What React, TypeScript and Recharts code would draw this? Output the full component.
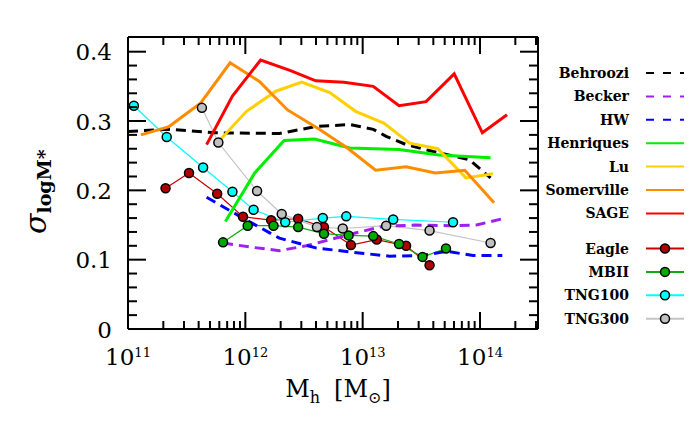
import { ComposedChart, Line, XAxis, YAxis, Legend } from "recharts"

// log10(M_h / M_sun) and sigma_logM*
const behrooziLogM = [11.0, 11.35, 11.75, 12.29, 12.6, 12.89, 13.09, 13.2, 13.37, 13.6, 13.91, 14.09]
const behrooziSigma = [0.285, 0.288, 0.283, 0.282, 0.292, 0.295, 0.288, 0.278, 0.266, 0.256, 0.244, 0.218]

const beckerLogM = [11.81, 12.05, 12.29, 12.52, 12.88, 13.17, 13.45, 13.74, 13.97, 14.19]
const beckerSigma = [0.124, 0.118, 0.113, 0.12, 0.136, 0.148, 0.15, 0.149, 0.15, 0.159]

const hwLogM = [11.67, 11.98, 12.29, 12.6, 12.9, 13.23, 13.5, 13.72, 13.94, 14.19]
const hwSigma = [0.19, 0.16, 0.131, 0.117, 0.111, 0.105, 0.106, 0.112, 0.106, 0.106]

const henriquesLogM = [11.83, 12.08, 12.33, 12.59, 12.89, 13.31, 13.65, 14.09]
const henriquesSigma = [0.155, 0.225, 0.272, 0.274, 0.261, 0.259, 0.251, 0.247]

const luLogM = [11.78, 12.01, 12.26, 12.48, 12.72, 12.94, 13.18, 13.4, 13.64, 13.88, 14.11]
const luSigma = [0.272, 0.314, 0.343, 0.356, 0.341, 0.314, 0.297, 0.268, 0.26, 0.218, 0.224]

const somervilleLogM = [11.11, 11.35, 11.62, 11.87, 12.12, 12.36, 12.63, 12.87, 13.11, 13.37, 13.62, 13.87, 14.12]
const somervilleSigma = [0.28, 0.292, 0.326, 0.384, 0.357, 0.316, 0.288, 0.261, 0.229, 0.234, 0.225, 0.229, 0.182]

const sageLogM = [11.67, 11.89, 12.13, 12.38, 12.6, 12.84, 13.09, 13.31, 13.54, 13.78, 14.02, 14.23]
const sageSigma = [0.266, 0.336, 0.388, 0.373, 0.358, 0.356, 0.35, 0.322, 0.328, 0.368, 0.283, 0.309]

const eagleLogM = [11.32, 11.52, 11.76, 11.98, 12.22, 12.45, 12.67, 12.9, 13.12, 13.37, 13.57]
const eagleSigma = [0.203, 0.225, 0.195, 0.162, 0.157, 0.159, 0.147, 0.121, 0.129, 0.12, 0.092]

const mbiiLogM = [11.81, 12.02, 12.24, 12.45, 12.67, 12.88, 13.09, 13.31, 13.51, 13.71]
const mbiiSigma = [0.125, 0.149, 0.149, 0.147, 0.1375, 0.135, 0.134, 0.1226, 0.104, 0.116]

const tng100LogM = [11.05, 11.33, 11.64, 11.89, 12.07, 12.34, 12.66, 12.86, 13.26, 13.77]
const tng100Sigma = [0.322, 0.277, 0.233, 0.198, 0.172, 0.154, 0.16, 0.1625, 0.158, 0.154]

const tng300LogM = [11.63, 11.77, 12.1, 12.31, 12.61, 12.83, 13.2, 13.57, 14.09]
const tng300Sigma = [0.319, 0.269, 0.199, 0.166, 0.147, 0.145, 0.149, 0.142, 0.124]

const decades = [11, 12, 13, 14]
const X_MIN = 1e11
const X_MAX = 3.12e14
const Y_MAX = 0.4212

const FONT = "'DejaVu Serif', serif"

const toPoints = (logM: number[], sigma: number[]) =>
  logM.map((l, i) => ({ m: Math.pow(10, l), s: sigma[i] }))

const models = [
  { name: "Behroozi", logM: behrooziLogM, sigma: behrooziSigma, color: "#000000", dash: "10 6" },
  { name: "Becker", logM: beckerLogM, sigma: beckerSigma, color: "#a020f0", dash: "10 6" },
  { name: "HW", logM: hwLogM, sigma: hwSigma, color: "#0000ff", dash: "10 6" },
  { name: "Henriques", logM: henriquesLogM, sigma: henriquesSigma, color: "#00ee00" },
  { name: "Lu", logM: luLogM, sigma: luSigma, color: "#ffd000" },
  { name: "Somerville", logM: somervilleLogM, sigma: somervilleSigma, color: "#ff8c00" },
  { name: "SAGE", logM: sageLogM, sigma: sageSigma, color: "#ff0000" },
]

const sims = [
  { name: "Eagle", logM: eagleLogM, sigma: eagleSigma, line: "#cc0000", fill: "#b00000" },
  { name: "MBII", logM: mbiiLogM, sigma: mbiiSigma, line: "#11aa11", fill: "#00aa00" },
  { name: "TNG100", logM: tng100LogM, sigma: tng100Sigma, line: "#00ffff", fill: "#00ffff" },
  { name: "TNG300", logM: tng300LogM, sigma: tng300Sigma, line: "#c4c4c4", fill: "#c0c0c0" },
]

const xTicks: number[] = []
decades.forEach((d) => {
  for (let k = 1; k <= 9; k++) {
    const v = k * Math.pow(10, d)
    if (v <= X_MAX) xTicks.push(v)
  }
})
const yTicks = Array.from({ length: 21 }, (_, i) => Math.round(i * 2) / 100)

const isMajorX = (v: number) => {
  const l = Math.log10(v)
  return Math.abs(l - Math.round(l)) < 1e-6
}
const isMajorY = (v: number) => Math.abs(v * 10 - Math.round(v * 10)) < 1e-6

function BottomTick(props: any) {
  const { x, y, payload } = props
  const major = isMajorX(payload.value)
  return (
    <g>
      <line x1={x} x2={x} y1={y} y2={y - (major ? 17 : 8)} stroke="#000" strokeWidth={2} />
      {major && (
        <text x={x} y={y + 36} textAnchor="middle" fontFamily={FONT} fontSize={23} fill="#000">
          10
          <tspan fontSize={13} dy={-8}>
            {Math.round(Math.log10(payload.value))}
          </tspan>
        </text>
      )}
    </g>
  )
}

function TopTick(props: any) {
  const { x, y, payload } = props
  const major = isMajorX(payload.value)
  return <line x1={x} x2={x} y1={y} y2={y + (major ? 17 : 8)} stroke="#000" strokeWidth={2} />
}

function LeftTick(props: any) {
  const { x, y, payload } = props
  const v = payload.value
  const major = isMajorY(v)
  return (
    <g>
      <line x1={x} x2={x + (major ? 18 : 9)} y1={y} y2={y} stroke="#000" strokeWidth={2} />
      {major && (
        <text x={x - 16} y={y + 8.5} textAnchor="end" fontFamily={FONT} fontSize={23} fill="#000">
          {v === 0 ? "0" : v.toFixed(1)}
        </text>
      )}
    </g>
  )
}

function RightTick(props: any) {
  const { x, y, payload } = props
  const major = isMajorY(payload.value)
  return <line x1={x} x2={x - (major ? 18 : 9)} y1={y} y2={y} stroke="#000" strokeWidth={2} />
}

function LegendBox() {
  const rowY = (r: number) => 18 + r * 23.4
  return (
    <svg width={152} height={290}>
      {models.map((m, i) => (
        <g key={m.name}>
          <text x={89} y={rowY(i) + 5} textAnchor="end" fontFamily={FONT} fontWeight="bold" fontSize={14} fill="#000">
            {m.name}
          </text>
          <line x1={106} x2={148} y1={rowY(i)} y2={rowY(i)} stroke={m.color} strokeWidth={2} strokeDasharray={m.dash ? "8 9" : undefined} />
        </g>
      ))}
      {sims.map((s, i) => (
        <g key={s.name}>
          <text x={89} y={rowY(i + 7.5) + 5} textAnchor="end" fontFamily={FONT} fontWeight="bold" fontSize={14} fill="#000">
            {s.name}
          </text>
          <line x1={106} x2={148} y1={rowY(i + 7.5)} y2={rowY(i + 7.5)} stroke={s.line} strokeWidth={2} />
          <circle cx={125} cy={rowY(i + 7.5)} r={4.5} fill={s.fill} stroke="#000" strokeWidth={1.5} />
        </g>
      ))}
    </svg>
  )
}

const yTitle = () => (
  <text transform="translate(38,226) rotate(-90)" fontFamily={FONT} fill="#000">
    <tspan fontSize={30} fontStyle="italic">σ</tspan>
    <tspan fontSize={19} fontWeight="bold" dy={5}>logM*</tspan>
  </text>
)

const xTitle = () => (
  <text x={330} y={389} textAnchor="middle" fontFamily={FONT} fontSize={24} fill="#000">
    M
    <tspan fontSize={16} dy={6}>h</tspan>
    <tspan dy={-6} dx={14}>[M</tspan>
    <tspan fontSize={16} dy={6}>⊙</tspan>
    <tspan dy={-6}>]</tspan>
  </text>
)

export default function App() {
  return (
    <ComposedChart width={684} height={416} margin={{ top: 19, right: 140, bottom: 55, left: 60 }}>
      <XAxis
        xAxisId="b"
        dataKey="m"
        type="number"
        scale="log"
        domain={[X_MIN, X_MAX]}
        allowDataOverflow
        ticks={xTicks}
        interval={0}
        tick={<BottomTick />}
        tickLine={false}
        tickSize={0}
        tickMargin={0}
        axisLine={{ stroke: "#000", strokeWidth: 2 }}
        height={40}
        label={xTitle}
      />
      <XAxis
        xAxisId="t"
        orientation="top"
        dataKey="m"
        type="number"
        scale="log"
        domain={[X_MIN, X_MAX]}
        allowDataOverflow
        ticks={xTicks}
        interval={0}
        tick={<TopTick />}
        tickLine={false}
        tickSize={0}
        tickMargin={0}
        axisLine={{ stroke: "#000", strokeWidth: 2 }}
        height={10}
      />
      <YAxis
        yAxisId="l"
        type="number"
        domain={[0, Y_MAX]}
        allowDataOverflow
        ticks={yTicks}
        interval={0}
        tick={<LeftTick />}
        tickLine={false}
        tickSize={0}
        tickMargin={0}
        axisLine={{ stroke: "#000", strokeWidth: 2 }}
        width={60}
        label={yTitle}
      />
      <YAxis
        yAxisId="r"
        orientation="right"
        type="number"
        domain={[0, Y_MAX]}
        allowDataOverflow
        ticks={yTicks}
        interval={0}
        tick={<RightTick />}
        tickLine={false}
        tickSize={0}
        tickMargin={0}
        axisLine={{ stroke: "#000", strokeWidth: 2 }}
        width={14}
      />
      {sims.map((s) => (
        <Line
          key={s.name}
          xAxisId="b"
          yAxisId="l"
          data={toPoints(s.logM, s.sigma)}
          dataKey="s"
          type="linear"
          stroke={s.line}
          strokeWidth={1.2}
          dot={{ r: 4.5, fill: s.fill, stroke: "#000", strokeWidth: 1.5, fillOpacity: 1 }}
          activeDot={false}
          isAnimationActive={false}
        />
      ))}
      {models.map((m) => (
        <Line
          key={m.name}
          xAxisId="b"
          yAxisId="l"
          data={toPoints(m.logM, m.sigma)}
          dataKey="s"
          type="linear"
          stroke={m.color}
          strokeWidth={3}
          strokeDasharray={m.dash}
          dot={false}
          activeDot={false}
          isAnimationActive={false}
        />
      ))}
      <Legend
        layout="vertical"
        align="center"
        verticalAlign="middle"
        wrapperStyle={{ left: 532, top: 47, width: 152, height: 290 }}
        content={() => <LegendBox />}
      />
    </ComposedChart>
  )
}
